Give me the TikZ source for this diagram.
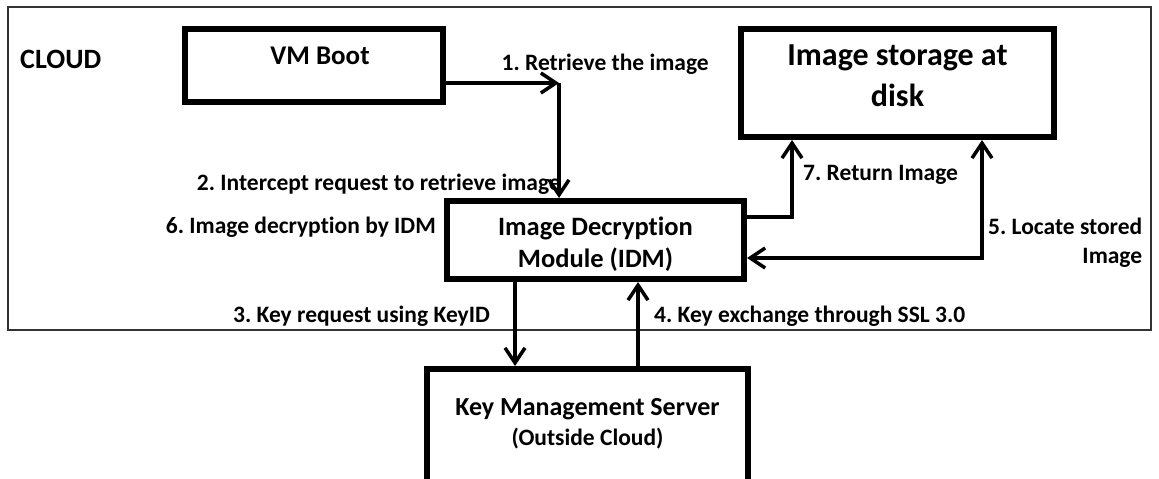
\documentclass[tikz,border=0pt]{standalone}
\usepackage{fontspec}
\setmainfont{Carlito}[Ligatures=NoCommon]
\usetikzlibrary{positioning, arrows.meta, calc}
\frenchspacing

\newcommand\lblfont{\fontsize{23.5}{29}\selectfont\bfseries}
\newcommand\cloudfont{\fontsize{28}{32}\selectfont\bfseries}
\newcommand\vmfont{\fontsize{27}{32}\selectfont\bfseries}
\newcommand\stfont{\fontsize{32}{41}\selectfont\bfseries}
\newcommand\idmfont{\fontsize{26.5}{32}\selectfont\bfseries}
\newcommand\kmsfont{\fontsize{26}{30}\selectfont\bfseries}

\begin{document}
\begin{tikzpicture}[x=1pt, y=-1pt,
  box/.style={draw, line width=6pt, inner sep=0pt},
  boxtext/.style={align=center, inner sep=0pt},
  lbl/.style={font=\lblfont, inner sep=0pt},
  arr/.style={line width=3.5pt, -{Straight Barb[length=15pt, width=20pt]}},
  arrboth/.style={line width=3.5pt, {Straight Barb[length=15pt, width=20pt]}-{Straight Barb[length=15pt, width=20pt]}}]

\useasboundingbox (0,0) rectangle (1159,479);
\clip (0,0) rectangle (1159,479);

\draw[line width=1.8pt, black!80] (8,7) rectangle (1151,330); % cloud frame
\node[font=\cloudfont, anchor=base west, inner sep=0pt] (cloud) at (20,68) {CLOUD};

\node[box, minimum width=258pt, minimum height=73pt] (vm) at (314,65.5) {};
\node[box, minimum width=313pt, minimum height=108pt] (st) at (897.5,83) {};
\node[box, minimum width=297pt, minimum height=78pt] (idm) at (595.5,240) {};
\node[box, minimum width=321pt, minimum height=114pt] (kms) at (587.5,426) {};

\node[boxtext, font=\vmfont] (vmtext) at ($(vm.center)+(6,-9.5)$) {VM Boot};
\node[boxtext, font=\stfont] (sttext) at ($(st.center)+(0,-7)$) {Image storage at\\disk};
\node[boxtext, font=\idmfont] (idmtext) at ($(idm.center)+(0,4)$) {Image Decryption\\Module (IDM)};
\node[boxtext, font=\kmsfont] (kmstext) at ($(kms.center)+(0,-2.5)$) {Key Management Server\\{\fontsize{23.5}{30}\selectfont(Outside Cloud)}};

\coordinate (c1) at (559,83);
\coordinate (c7) at (792,217);
\coordinate (c5) at (982,258);
\coordinate (k3) at (515,0);
\coordinate (k4) at (638,0);

\draw[arr] (vm.east |- c1) -- (c1);
\draw[arr] (c1) -- (c1 |- idm.north);
\draw[arr] (idm.east |- c7) -- (c7) -- (c7 |- st.south);
\draw[arrboth] (idm.east |- c5) -- (c5) -- (c5 |- st.south);
\draw[arr] (idm.south -| k3) -- (kms.north -| k3);
\draw[arr] (kms.north -| k4) -- (idm.south -| k4);

\node[lbl, anchor=base east] (l1) at (709,70) {1. Retrieve the image};
\node[lbl, anchor=base east] (l2) at (561,190) {2. Intercept request to retrieve image};
\node[lbl, anchor=base east] (l6) at (436,233) {6. Image decryption by IDM};
\node[lbl, anchor=base west] (l7) at (803,180) {7. Return Image};
\node[lbl, anchor=north west, align=right] (l5) at (988,218) {5. Locate stored\\Image};
\node[lbl, anchor=base west] (l3) at (233,322) {3. Key request using KeyID};
\node[lbl, anchor=base west] (l4) at (654,322) {4. Key exchange through SSL 3.0};
\end{tikzpicture}
\end{document}
